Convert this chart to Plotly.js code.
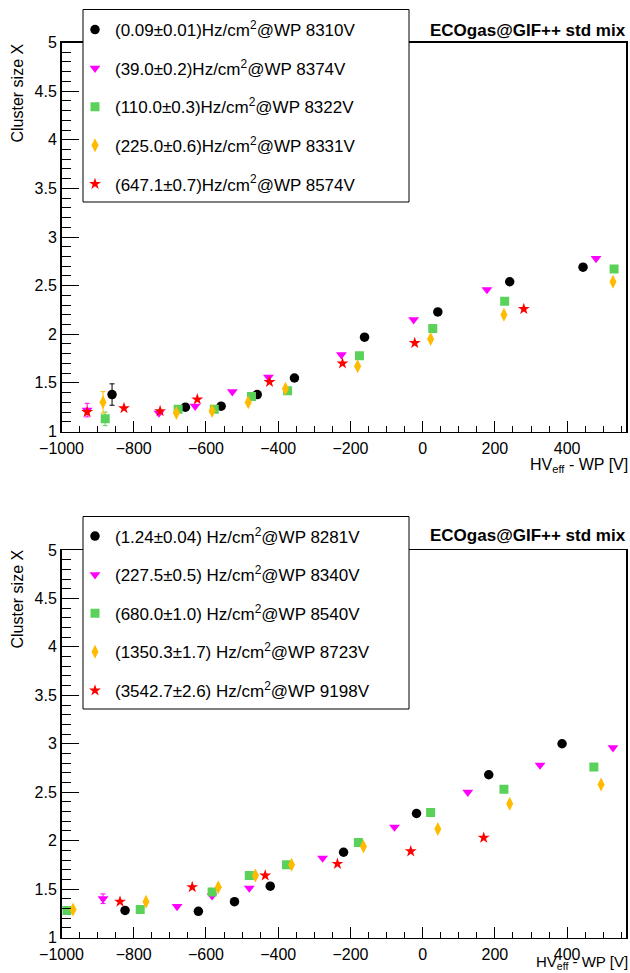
<!DOCTYPE html>
<html><head><meta charset="utf-8">
<script src="https://cdn.plot.ly/plotly-3.0.1.min.js"></script>
<style>html,body{margin:0;padding:0;background:#fff}</style>
</head><body><div id="chart" style="width:630px;height:973px"></div>
<script>
// ---- Top panel data ----
const top_names = ['(0.09±0.01)Hz/cm<sup>2</sup>@WP 8310V','(39.0±0.2)Hz/cm<sup>2</sup>@WP 8374V','(110.0±0.3)Hz/cm<sup>2</sup>@WP 8322V','(225.0±0.6)Hz/cm<sup>2</sup>@WP 8331V','(647.1±0.7)Hz/cm<sup>2</sup>@WP 8574V'];
const top_black_x = [-860,-657,-558,-458,-355,-161,42,241,444];
const top_black_y = [1.38,1.25,1.26,1.38,1.55,1.97,2.23,2.54,2.69];
const top_black_e = [0.11,0,0,0,0,0,0,0,0];
const top_mag_x = [-929,-730,-630,-527,-427,-225,-25,178,480];
const top_mag_y = [1.22,1.19,1.26,1.41,1.56,1.79,2.15,2.46,2.78];
const top_mag_e = [0.07,0,0,0,0,0,0,0,0];
const top_green_x = [-879,-677,-577,-474,-374,-175,28,227,530];
const top_green_y = [1.13,1.23,1.23,1.36,1.42,1.78,2.06,2.34,2.67];
const top_green_e = [0.07,0,0,0,0,0,0,0,0];
const top_orange_x = [-885,-682,-583,-483,-380,-180,22,225,527];
const top_orange_y = [1.30,1.19,1.21,1.30,1.44,1.67,1.95,2.20,2.54];
const top_orange_e = [0.11,0,0,0,0,0,0,0,0];
const top_red_x = [-929,-827,-727,-624,-424,-222,-22,280];
const top_red_y = [1.20,1.24,1.21,1.33,1.51,1.70,1.91,2.26];

// ---- Bottom panel data ----
const bot_names = ['(1.24±0.04) Hz/cm<sup>2</sup>@WP 8281V','(227.5±0.5) Hz/cm<sup>2</sup>@WP 8340V','(680.0±1.0) Hz/cm<sup>2</sup>@WP 8540V','(1350.3±1.7) Hz/cm<sup>2</sup>@WP 8723V','(3542.7±2.6) Hz/cm<sup>2</sup>@WP 9198V'];
const bot_black_x = [-824,-621,-521,-422,-219,-17,183,386];
const bot_black_y = [1.28,1.27,1.37,1.53,1.88,2.28,2.68,3.00];
const bot_mag_x = [-885,-680,-583,-480,-277,-78,125,325,527];
const bot_mag_y = [1.40,1.32,1.43,1.51,1.82,2.14,2.50,2.78,2.96];
const bot_mag_e = [0.05,0,0,0,0,0,0,0,0];
const bot_green_x = [-985,-782,-583,-480,-377,-178,22,225,474];
const bot_green_y = [1.28,1.29,1.47,1.64,1.75,1.98,2.29,2.53,2.76];
const bot_orange_x = [-968,-766,-566,-463,-363,-164,42,241,494];
const bot_orange_y = [1.29,1.37,1.52,1.64,1.75,1.94,2.12,2.38,2.58];
const bot_red_x = [-838,-638,-436,-236,-33,169];
const bot_red_y = [1.37,1.52,1.64,1.76,1.89,2.03];

const panelTitle = '<b>ECOgas@GIF++ std mix</b>';
const yTitle = 'Cluster size X';
const xTitle = 'HV<sub>eff</sub> - WP [V]';

const W = 630, H = 973;
const px = v => v / W, py = v => 1 - v / H;
const FONT = 'Liberation Sans, Arial, Helvetica, sans-serif';

const styles = [
  {symbol:'circle', color:'#000000', size:9.5},
  {symbol:'triangle-down', color:'#ff00ff', size:9.5},
  {symbol:'square', color:'#5ad25a', size:9},
  {symbol:'diamond-tall', color:'#ffbb00', size:10},
  {symbol:'star', color:'#ff0000', size:9}
];

function mk(x, y, e, i, panel, name) {
  const s = styles[i];
  const t = {
    type:'scatter', mode:'markers', x:x, y:y, name:name,
    xaxis: panel === 1 ? 'x' : 'x2', yaxis: panel === 1 ? 'y' : 'y2',
    legend: panel === 1 ? 'legend' : 'legend2',
    legendgroup: 'g' + panel + '_' + i,
    marker:{symbol:s.symbol, color:s.color, size:s.size, line:{width:0}},
    hoverinfo:'x+y'
  };
  if (e) t.error_y = {type:'data', array:e, visible:true, color:s.color, thickness:1, width:2.5};
  return t;
}

const data = [
  mk(top_black_x, top_black_y, top_black_e, 0, 1, top_names[0]),
  mk(top_mag_x, top_mag_y, top_mag_e, 1, 1, top_names[1]),
  mk(top_green_x, top_green_y, top_green_e, 2, 1, top_names[2]),
  mk(top_orange_x, top_orange_y, top_orange_e, 3, 1, top_names[3]),
  mk(top_red_x, top_red_y, null, 4, 1, top_names[4]),
  mk(bot_black_x, bot_black_y, null, 0, 2, bot_names[0]),
  mk(bot_mag_x, bot_mag_y, bot_mag_e, 1, 2, bot_names[1]),
  mk(bot_green_x, bot_green_y, null, 2, 2, bot_names[2]),
  mk(bot_orange_x, bot_orange_y, null, 3, 2, bot_names[3]),
  mk(bot_red_x, bot_red_y, null, 4, 2, bot_names[4])
];

function xax(anchor, standoff, fs) {
  return {
    domain:[px(61.5), px(626)], range:[-1000, 563], anchor:anchor,
    tick0:0, dtick:200, ticks:'inside', ticklen:11, tickwidth:1, tickcolor:'#000',
    minor:{dtick:50, ticks:'inside', ticklen:6, tickwidth:1, tickcolor:'#000'},
    showline:true, linecolor:'#000', linewidth:1.5, mirror:true, ticklabelstandoff:standoff,
    showgrid:false, zeroline:false, tickfont:{size:fs, color:'#000', family:FONT}
  };
}
function yax(anchor, top, bottom) {
  return {
    domain:[py(bottom), py(top)], range:[1, 5], anchor:anchor,
    tick0:1, dtick:0.5, ticks:'inside', ticklen:17, tickwidth:1, tickcolor:'#000',
    minor:{dtick:0.1, ticks:'inside', ticklen:9, tickwidth:1, tickcolor:'#000'},
    showline:true, linecolor:'#000', linewidth:1.5, mirror:true,
    showgrid:false, zeroline:false, tickfont:{size:16, color:'#000', family:FONT}
  };
}

function leg(top) {
  return {
    x:px(75), xanchor:'left', y:py(top), yanchor:'top',
    bgcolor:'rgba(0,0,0,0)', borderwidth:0, font:{size:17, color:'#000', family:FONT},
    traceorder:'grouped', tracegroupgap:13.5, itemclick:false
  };
}

const ann = (text, x, y, xa, ya, size, angle) => ({
  text:text, x:px(x), y:py(y), xref:'paper', yref:'paper', xanchor:xa, yanchor:ya,
  showarrow:false, textangle:angle || 0, borderpad:0, font:{size:size, color:'#000', family:FONT}
});

const layout = {
  width:W, height:H, margin:{l:0, r:0, t:0, b:0},
  paper_bgcolor:'#fff', plot_bgcolor:'#fff',
  font:{family:FONT, color:'#000'},
  xaxis: xax('y', 2, 16), yaxis: yax('x', 42.5, 431.5),
  xaxis2: xax('y2', 2, 16), yaxis2: yax('x2', 550, 937.5),
  legend: leg(12), legend2: leg(518.5),
  showlegend:true,
  shapes:[
    {type:'rect', xref:'paper', yref:'paper', x0:px(83), x1:px(409), y0:py(202), y1:py(9.5), fillcolor:'#fff', line:{color:'#000', width:1}, layer:'above'},
    {type:'rect', xref:'paper', yref:'paper', x0:px(83), x1:px(409), y0:py(709), y1:py(516.5), fillcolor:'#fff', line:{color:'#000', width:1}, layer:'above'}
  ],
  annotations:[
    ann(panelTitle, 627, 30, 'right', 'middle', 17),
    ann(panelTitle, 627, 535, 'right', 'middle', 17),
    ann(yTitle, 17, 43, 'center', 'top', 16, -90),
    ann(yTitle, 17, 549, 'center', 'top', 16, -90),
    ann(xTitle, 629, 465, 'right', 'middle', 16),
    ann(xTitle, 629, 973, 'right', 'bottom', 15)
  ]
};

Plotly.newPlot('chart', data, layout, {displayModeBar:false, staticPlot:true});
</script></body></html>
